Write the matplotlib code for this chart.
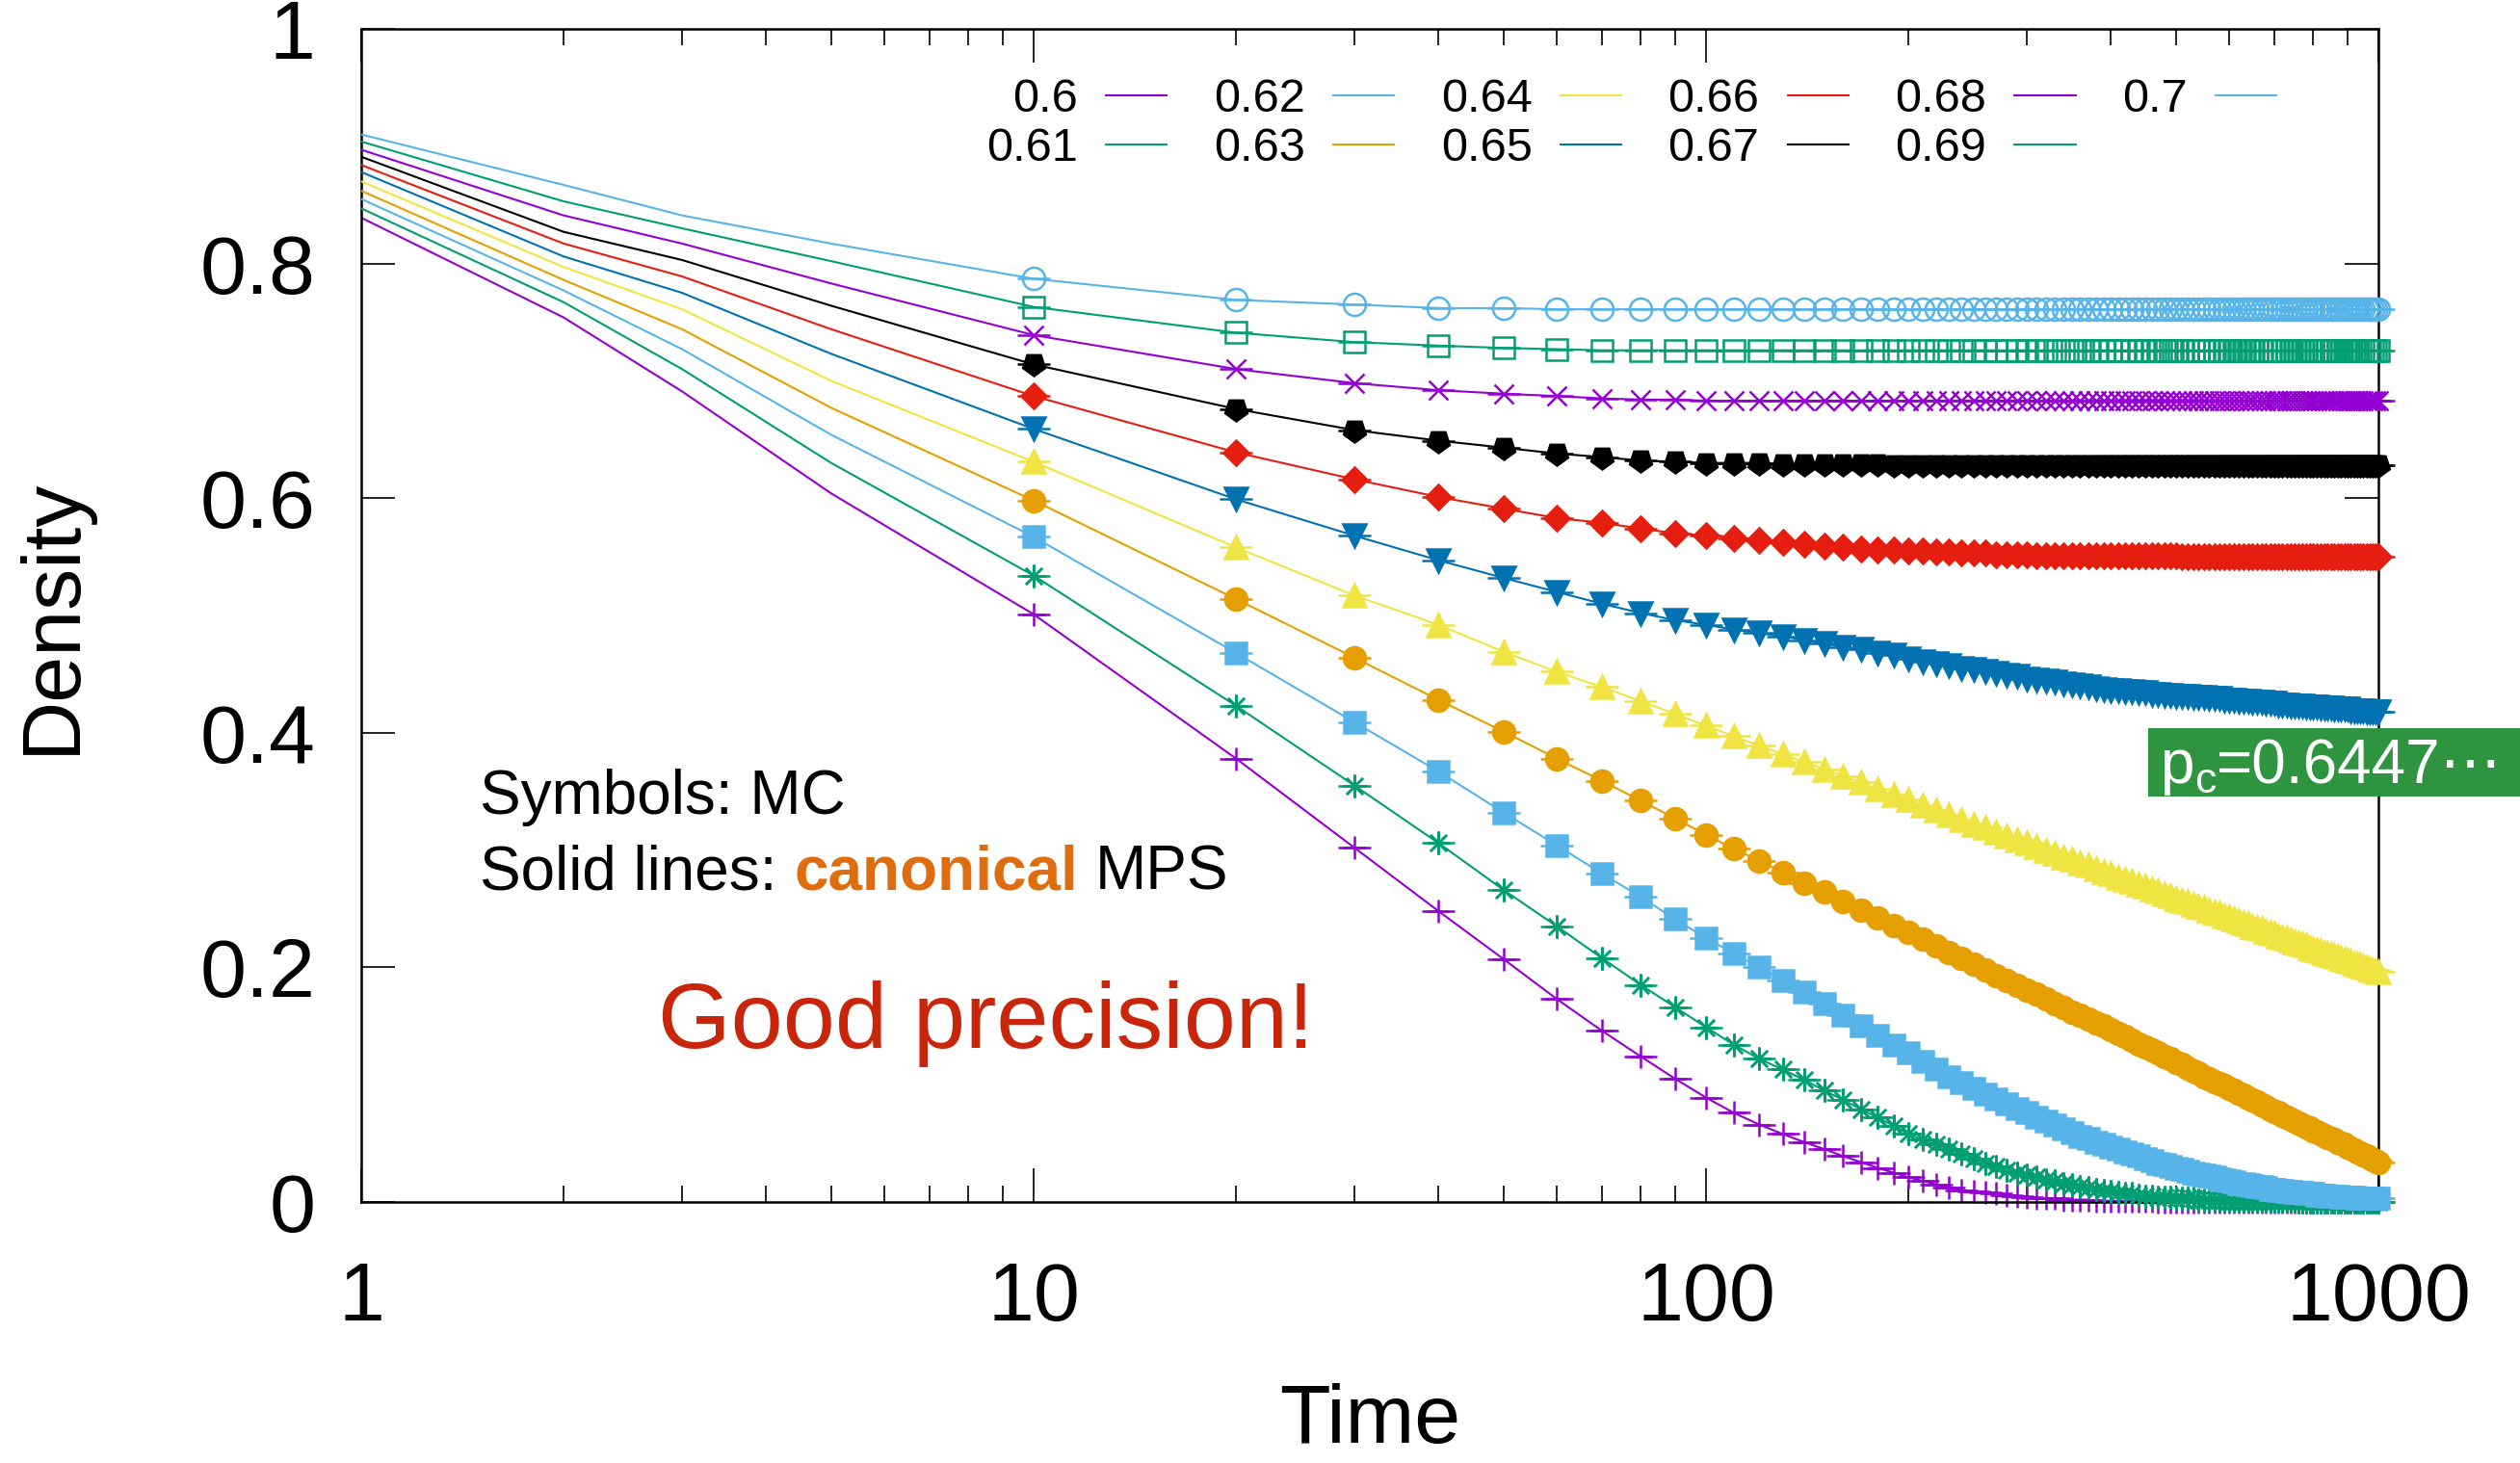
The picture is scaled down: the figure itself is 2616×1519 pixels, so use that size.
import matplotlib
matplotlib.use('Agg')
import matplotlib.pyplot as plt
from matplotlib.patches import Rectangle

plt.rcParams['font.family'] = ['Liberation Sans', 'DejaVu Sans']

# probabilities p (one curve each)
p_values = [0.6, 0.61, 0.62, 0.63, 0.64, 0.65, 0.66, 0.67, 0.68, 0.69, 0.7]

# MPS lines before the first MC point, at t = 1, 2, 3, 5
t_early = [1, 2, 3, 5]
early_060 = [0.839, 0.754, 0.691, 0.604]
early_061 = [0.847, 0.767, 0.710, 0.630]
early_062 = [0.855, 0.777, 0.727, 0.654]
early_063 = [0.862, 0.786, 0.744, 0.677]
early_064 = [0.870, 0.797, 0.761, 0.700]
early_065 = [0.878, 0.806, 0.775, 0.723]
early_066 = [0.884, 0.817, 0.789, 0.744]
early_067 = [0.891, 0.827, 0.803, 0.764]
early_068 = [0.897, 0.841, 0.817, 0.783]
early_069 = [0.904, 0.853, 0.830, 0.802]
early_070 = [0.910, 0.867, 0.841, 0.817]

# MC points every 10 steps, t = 10 ... 1000 (one row = 10 points)
t_mc = list(range(10, 1001, 10))
mc_060 = [0.501, 0.378, 0.302, 0.248, 0.207, 0.173, 0.146, 0.124, 0.105, 0.089,
          0.076, 0.066, 0.058, 0.051, 0.045, 0.039, 0.034, 0.029, 0.025, 0.021,
          0.018, 0.015, 0.012, 0.010, 0.009, 0.008, 0.007, 0.006, 0.005, 0.004,
          0.003, 0.003, 0.003, 0.002, 0.002, 0.002, 0.002, 0.001, 0.001, 0.001,
          0.001, 0.001, 0.001, 0.001, 0.001, 0.001, 0.000, 0.000, 0.000, 0.000,
          0.000, 0.000, 0.000, 0.000, 0.000, 0.000, 0.000, 0.000, 0.000, 0.000,
          0.000, 0.000, 0.000, 0.000, 0.000, 0.000, 0.000, 0.000, 0.000, 0.000,
          0.000, 0.000, 0.000, 0.000, 0.000, 0.000, 0.000, 0.000, 0.000, 0.000,
          0.000, 0.000, 0.000, 0.000, 0.000, 0.000, 0.000, 0.000, 0.000, 0.000,
          0.000, 0.000, 0.000, 0.000, 0.000, 0.000, 0.000, 0.000, 0.000, 0.000]
mc_061 = [0.534, 0.423, 0.355, 0.306, 0.266, 0.235, 0.208, 0.185, 0.166, 0.149,
          0.134, 0.122, 0.113, 0.104, 0.095, 0.087, 0.079, 0.072, 0.065, 0.058,
          0.053, 0.049, 0.045, 0.041, 0.037, 0.033, 0.030, 0.027, 0.025, 0.023,
          0.021, 0.019, 0.018, 0.016, 0.015, 0.013, 0.012, 0.011, 0.010, 0.009,
          0.008, 0.007, 0.007, 0.006, 0.005, 0.005, 0.004, 0.004, 0.004, 0.003,
          0.003, 0.003, 0.003, 0.002, 0.002, 0.002, 0.002, 0.002, 0.002, 0.001,
          0.001, 0.001, 0.001, 0.001, 0.001, 0.001, 0.001, 0.001, 0.001, 0.001,
          0.001, 0.001, 0.001, 0.001, 0.001, 0.000, 0.000, 0.000, 0.000, 0.000,
          0.000, 0.000, 0.000, 0.000, 0.000, 0.000, 0.000, 0.000, 0.000, 0.000,
          0.000, 0.000, 0.000, 0.000, 0.000, 0.000, 0.000, 0.000, 0.000, 0.000]
mc_062 = [0.567, 0.468, 0.409, 0.367, 0.332, 0.304, 0.280, 0.260, 0.241, 0.225,
          0.212, 0.200, 0.189, 0.179, 0.169, 0.159, 0.150, 0.142, 0.134, 0.127,
          0.120, 0.113, 0.107, 0.102, 0.097, 0.092, 0.088, 0.084, 0.080, 0.076,
          0.072, 0.069, 0.066, 0.062, 0.059, 0.056, 0.054, 0.051, 0.049, 0.047,
          0.045, 0.043, 0.041, 0.039, 0.037, 0.035, 0.033, 0.032, 0.030, 0.029,
          0.028, 0.026, 0.025, 0.024, 0.023, 0.022, 0.021, 0.020, 0.019, 0.018,
          0.017, 0.016, 0.016, 0.015, 0.014, 0.013, 0.013, 0.012, 0.011, 0.011,
          0.010, 0.010, 0.009, 0.009, 0.008, 0.008, 0.008, 0.007, 0.007, 0.007,
          0.006, 0.006, 0.006, 0.005, 0.005, 0.005, 0.005, 0.004, 0.004, 0.004,
          0.004, 0.004, 0.003, 0.003, 0.003, 0.003, 0.003, 0.003, 0.003, 0.003]
mc_063 = [0.598, 0.514, 0.464, 0.428, 0.401, 0.378, 0.359, 0.342, 0.327, 0.313,
          0.301, 0.291, 0.281, 0.272, 0.264, 0.256, 0.249, 0.242, 0.236, 0.230,
          0.224, 0.218, 0.213, 0.208, 0.203, 0.198, 0.193, 0.189, 0.185, 0.181,
          0.177, 0.173, 0.169, 0.166, 0.162, 0.159, 0.156, 0.153, 0.150, 0.147,
          0.144, 0.141, 0.138, 0.135, 0.132, 0.130, 0.127, 0.124, 0.122, 0.119,
          0.117, 0.114, 0.112, 0.110, 0.107, 0.105, 0.103, 0.101, 0.099, 0.097,
          0.095, 0.093, 0.091, 0.089, 0.087, 0.085, 0.083, 0.081, 0.079, 0.077,
          0.076, 0.074, 0.072, 0.071, 0.069, 0.067, 0.066, 0.064, 0.063, 0.061,
          0.060, 0.058, 0.057, 0.055, 0.054, 0.053, 0.051, 0.050, 0.049, 0.047,
          0.046, 0.044, 0.043, 0.042, 0.040, 0.039, 0.038, 0.036, 0.035, 0.034]
mc_064 = [0.631, 0.558, 0.517, 0.492, 0.469, 0.452, 0.439, 0.427, 0.416, 0.406,
          0.397, 0.389, 0.382, 0.375, 0.369, 0.363, 0.358, 0.352, 0.347, 0.343,
          0.338, 0.334, 0.330, 0.326, 0.322, 0.319, 0.315, 0.312, 0.309, 0.306,
          0.303, 0.300, 0.297, 0.294, 0.292, 0.289, 0.287, 0.284, 0.282, 0.280,
          0.277, 0.275, 0.273, 0.271, 0.269, 0.267, 0.265, 0.263, 0.261, 0.259,
          0.257, 0.256, 0.254, 0.252, 0.251, 0.249, 0.247, 0.246, 0.244, 0.243,
          0.241, 0.240, 0.238, 0.237, 0.235, 0.234, 0.233, 0.231, 0.230, 0.229,
          0.227, 0.226, 0.225, 0.223, 0.222, 0.221, 0.220, 0.219, 0.217, 0.216,
          0.215, 0.214, 0.213, 0.212, 0.211, 0.210, 0.209, 0.208, 0.207, 0.206,
          0.205, 0.204, 0.203, 0.202, 0.201, 0.200, 0.199, 0.198, 0.197, 0.196]
mc_065 = [0.659, 0.599, 0.568, 0.547, 0.532, 0.520, 0.510, 0.502, 0.496, 0.492,
          0.488, 0.485, 0.482, 0.479, 0.476, 0.473, 0.471, 0.468, 0.466, 0.463,
          0.461, 0.459, 0.457, 0.455, 0.454, 0.452, 0.451, 0.449, 0.448, 0.446,
          0.445, 0.444, 0.443, 0.442, 0.441, 0.440, 0.439, 0.438, 0.437, 0.436,
          0.436, 0.435, 0.435, 0.434, 0.434, 0.433, 0.433, 0.432, 0.432, 0.431,
          0.431, 0.431, 0.430, 0.430, 0.430, 0.429, 0.429, 0.429, 0.428, 0.428,
          0.428, 0.427, 0.427, 0.427, 0.426, 0.426, 0.426, 0.425, 0.425, 0.425,
          0.424, 0.424, 0.424, 0.423, 0.423, 0.423, 0.423, 0.422, 0.422, 0.422,
          0.422, 0.421, 0.421, 0.421, 0.421, 0.420, 0.420, 0.420, 0.420, 0.420,
          0.419, 0.419, 0.419, 0.419, 0.419, 0.418, 0.418, 0.418, 0.418, 0.418]
mc_066 = [0.687, 0.639, 0.616, 0.601, 0.591, 0.583, 0.579, 0.574, 0.570, 0.568,
          0.566, 0.564, 0.562, 0.561, 0.559, 0.558, 0.557, 0.556, 0.556, 0.555,
          0.555, 0.554, 0.554, 0.553, 0.553, 0.553, 0.552, 0.552, 0.552, 0.552,
          0.551, 0.551, 0.551, 0.551, 0.551, 0.551, 0.551, 0.551, 0.551, 0.551,
          0.551, 0.551, 0.551, 0.551, 0.551, 0.551, 0.551, 0.551, 0.551, 0.551,
          0.550, 0.550, 0.550, 0.550, 0.550, 0.550, 0.550, 0.550, 0.550, 0.550,
          0.550, 0.550, 0.550, 0.550, 0.550, 0.550, 0.550, 0.550, 0.550, 0.550,
          0.550, 0.550, 0.550, 0.550, 0.550, 0.550, 0.550, 0.550, 0.550, 0.550,
          0.550, 0.550, 0.550, 0.550, 0.550, 0.550, 0.550, 0.550, 0.550, 0.550,
          0.550, 0.550, 0.550, 0.550, 0.550, 0.550, 0.550, 0.550, 0.550, 0.550]
mc_067 = [0.714, 0.676, 0.658, 0.649, 0.643, 0.638, 0.635, 0.632, 0.631, 0.630,
          0.630, 0.630, 0.629, 0.629, 0.629, 0.629, 0.629, 0.629, 0.628, 0.628,
          0.628, 0.628, 0.628, 0.628, 0.628, 0.628, 0.628, 0.628, 0.628, 0.628,
          0.628, 0.628, 0.628, 0.628, 0.628, 0.628, 0.628, 0.628, 0.628, 0.628,
          0.628, 0.628, 0.628, 0.628, 0.628, 0.628, 0.628, 0.628, 0.628, 0.628,
          0.628, 0.628, 0.628, 0.628, 0.628, 0.628, 0.628, 0.628, 0.628, 0.628,
          0.628, 0.628, 0.628, 0.628, 0.628, 0.628, 0.628, 0.628, 0.628, 0.628,
          0.628, 0.628, 0.628, 0.628, 0.628, 0.628, 0.628, 0.628, 0.628, 0.628,
          0.628, 0.628, 0.628, 0.628, 0.628, 0.628, 0.628, 0.628, 0.628, 0.628,
          0.628, 0.628, 0.628, 0.628, 0.628, 0.628, 0.628, 0.628, 0.628, 0.628]
mc_068 = [0.739, 0.710, 0.698, 0.692, 0.689, 0.687, 0.685, 0.684, 0.684, 0.683,
          0.683, 0.683, 0.683, 0.683, 0.683, 0.683, 0.683, 0.683, 0.683, 0.683,
          0.683, 0.683, 0.683, 0.683, 0.683, 0.683, 0.683, 0.683, 0.683, 0.683,
          0.683, 0.683, 0.683, 0.683, 0.683, 0.683, 0.683, 0.683, 0.683, 0.683,
          0.683, 0.683, 0.683, 0.683, 0.683, 0.683, 0.683, 0.683, 0.683, 0.683,
          0.683, 0.683, 0.683, 0.683, 0.683, 0.683, 0.683, 0.683, 0.683, 0.683,
          0.683, 0.683, 0.683, 0.683, 0.683, 0.683, 0.683, 0.683, 0.683, 0.683,
          0.683, 0.683, 0.683, 0.683, 0.683, 0.683, 0.683, 0.683, 0.683, 0.683,
          0.683, 0.683, 0.683, 0.683, 0.683, 0.683, 0.683, 0.683, 0.683, 0.683,
          0.683, 0.683, 0.683, 0.683, 0.683, 0.683, 0.683, 0.683, 0.683, 0.683]
mc_069 = [0.763, 0.741, 0.733, 0.730, 0.728, 0.727, 0.726, 0.726, 0.726, 0.726,
          0.726, 0.726, 0.726, 0.726, 0.726, 0.726, 0.726, 0.726, 0.726, 0.726,
          0.726, 0.726, 0.726, 0.726, 0.726, 0.726, 0.726, 0.726, 0.726, 0.726,
          0.726, 0.726, 0.726, 0.726, 0.726, 0.726, 0.726, 0.726, 0.726, 0.726,
          0.726, 0.726, 0.726, 0.726, 0.726, 0.726, 0.726, 0.726, 0.726, 0.726,
          0.726, 0.726, 0.726, 0.726, 0.726, 0.726, 0.726, 0.726, 0.726, 0.726,
          0.726, 0.726, 0.726, 0.726, 0.726, 0.726, 0.726, 0.726, 0.726, 0.726,
          0.726, 0.726, 0.726, 0.726, 0.726, 0.726, 0.726, 0.726, 0.726, 0.726,
          0.726, 0.726, 0.726, 0.726, 0.726, 0.726, 0.726, 0.726, 0.726, 0.726,
          0.726, 0.726, 0.726, 0.726, 0.726, 0.726, 0.726, 0.726, 0.726, 0.726]
mc_070 = [0.787, 0.769, 0.765, 0.762, 0.762, 0.761, 0.761, 0.761, 0.761, 0.761,
          0.761, 0.761, 0.761, 0.761, 0.761, 0.761, 0.761, 0.761, 0.761, 0.761,
          0.761, 0.761, 0.761, 0.761, 0.761, 0.761, 0.761, 0.761, 0.761, 0.761,
          0.761, 0.761, 0.761, 0.761, 0.761, 0.761, 0.761, 0.761, 0.761, 0.761,
          0.761, 0.761, 0.761, 0.761, 0.761, 0.761, 0.761, 0.761, 0.761, 0.761,
          0.761, 0.761, 0.761, 0.761, 0.761, 0.761, 0.761, 0.761, 0.761, 0.761,
          0.761, 0.761, 0.761, 0.761, 0.761, 0.761, 0.761, 0.761, 0.761, 0.761,
          0.761, 0.761, 0.761, 0.761, 0.761, 0.761, 0.761, 0.761, 0.761, 0.761,
          0.761, 0.761, 0.761, 0.761, 0.761, 0.761, 0.761, 0.761, 0.761, 0.761,
          0.761, 0.761, 0.761, 0.761, 0.761, 0.761, 0.761, 0.761, 0.761, 0.761]

early_all = [early_060, early_061, early_062, early_063, early_064, early_065,
             early_066, early_067, early_068, early_069, early_070]
mc_all = [mc_060, mc_061, mc_062, mc_063, mc_064, mc_065,
          mc_066, mc_067, mc_068, mc_069, mc_070]

# gnuplot-like colours and point types
colors = ['#9400d3', '#009e73', '#56b4e9', '#e69f00', '#f0e442', '#0072b2',
          '#e51e10', '#000000', '#9400d3', '#009e73', '#56b4e9']
markers = ['+', (8, 2, 0), 's', 'o', '^', 'v', 'D', (5, 0, 180), 'x', 's', 'o']
hollow = [False, False, False, False, False, False, False, False, False, True, True]
msizes = [8.3, 8.6, 7.8, 8.3, 8.5, 8.5, 6.4, 8.6, 7.5, 7.8, 8.3]

W, H = 2616, 1519
fig = plt.figure(figsize=(W / 200, H / 200), dpi=200)
ax = fig.add_axes([375 / W, 1 - 1248 / H, (2469 - 375) / W, (1248 - 30) / H])

for i, p in enumerate(p_values):
    c = colors[i]
    t_line = t_early + t_mc
    v_line = early_all[i] + mc_all[i]
    ax.plot(t_line, v_line, color=c, lw=0.75, label=f'{p:g}', zorder=2 + i)
    mfc = 'none' if hollow[i] else c
    ax.plot(t_mc, mc_all[i], ls='none', marker=markers[i], ms=msizes[i],
            mfc=mfc, mec=c, mew=0.9, clip_on=False, zorder=2 + i)
    ax.plot(t_mc, mc_all[i], ls='none', marker='_', ms=12.5, mew=0.9,
            color=c, clip_on=False, zorder=2 + i)

ax.set_xscale('log')
ax.set_xlim(1, 1000)
ax.set_ylim(0, 1)
ax.set_xticks([1, 10, 100, 1000])
ax.set_xticklabels(['1', '10', '100', '1000'])
ax.set_yticks([0, 0.2, 0.4, 0.6, 0.8, 1])
ax.set_yticklabels(['0', '0.2', '0.4', '0.6', '0.8', '1'])
ax.tick_params(which='both', direction='in', top=True, right=True,
               width=0.6, labelsize=31)
ax.tick_params(which='major', length=12.5)
ax.tick_params(which='minor', length=6)
ax.tick_params(axis='y', pad=17)
ax.tick_params(axis='x', pad=22)
for s in ax.spines.values():
    s.set_linewidth(0.9)

ax.set_xlabel('Time', fontsize=31)
ax.xaxis.label.set_va('baseline')
ax.xaxis.set_label_coords(0.5, (1248 - 1498) / 1218)
ax.set_ylabel('Density', fontsize=31)
ax.yaxis.set_label_coords((95 - 375) / 2094, 0.5)

ax.legend(loc='upper left', bbox_to_anchor=(1024 / W, 1 - 81 / H),
          bbox_transform=fig.transFigure, ncol=6, markerfirst=False,
          frameon=False, fontsize=17.5, handlelength=1.3, handletextpad=0.6,
          columnspacing=1.0, labelspacing=0.115, borderpad=0, borderaxespad=0)

# annotations
fig.text(498 / W, 1 - 845 / H, 'Symbols: MC', fontsize=23, va='baseline')
t1 = fig.text(498 / W, 1 - 923 / H, 'Solid lines:', fontsize=23, va='baseline')
t2 = ax.annotate('canonical', xy=(1, 0), xycoords=t1, xytext=(6.4, 0),
                 textcoords='offset points', fontsize=23, fontweight='bold',
                 color='#e06c10', va='bottom', ha='left')
ax.annotate('MPS', xy=(1, 0), xycoords=t2, xytext=(6.4, 0),
            textcoords='offset points', fontsize=23, va='bottom', ha='left')
fig.text(683 / W, 1 - 1088 / H, 'Good precision!', fontsize=35,
         color='#c8250a', va='baseline')

# critical point tag
box = Rectangle((2230 / W, 1 - 827 / H), (W - 2230) / W, (827 - 756) / H,
                transform=fig.transFigure, fc='#2f9440', ec='none', zorder=10)
fig.add_artist(box)
tp = fig.text(2242 / W, 1 - 813 / H, r'p$_{\mathregular{c}}$', fontsize=23,
              color='white', va='baseline', zorder=11)
fig.canvas.draw()
bb = tp.get_window_extent(fig.canvas.get_renderer())
fig.text(bb.x1 / fig.bbox.width, 1 - 813 / H, '=0.6447⋯', fontsize=23,
         color='white', va='baseline', zorder=11)

fig.savefig('out.png', dpi=200)
